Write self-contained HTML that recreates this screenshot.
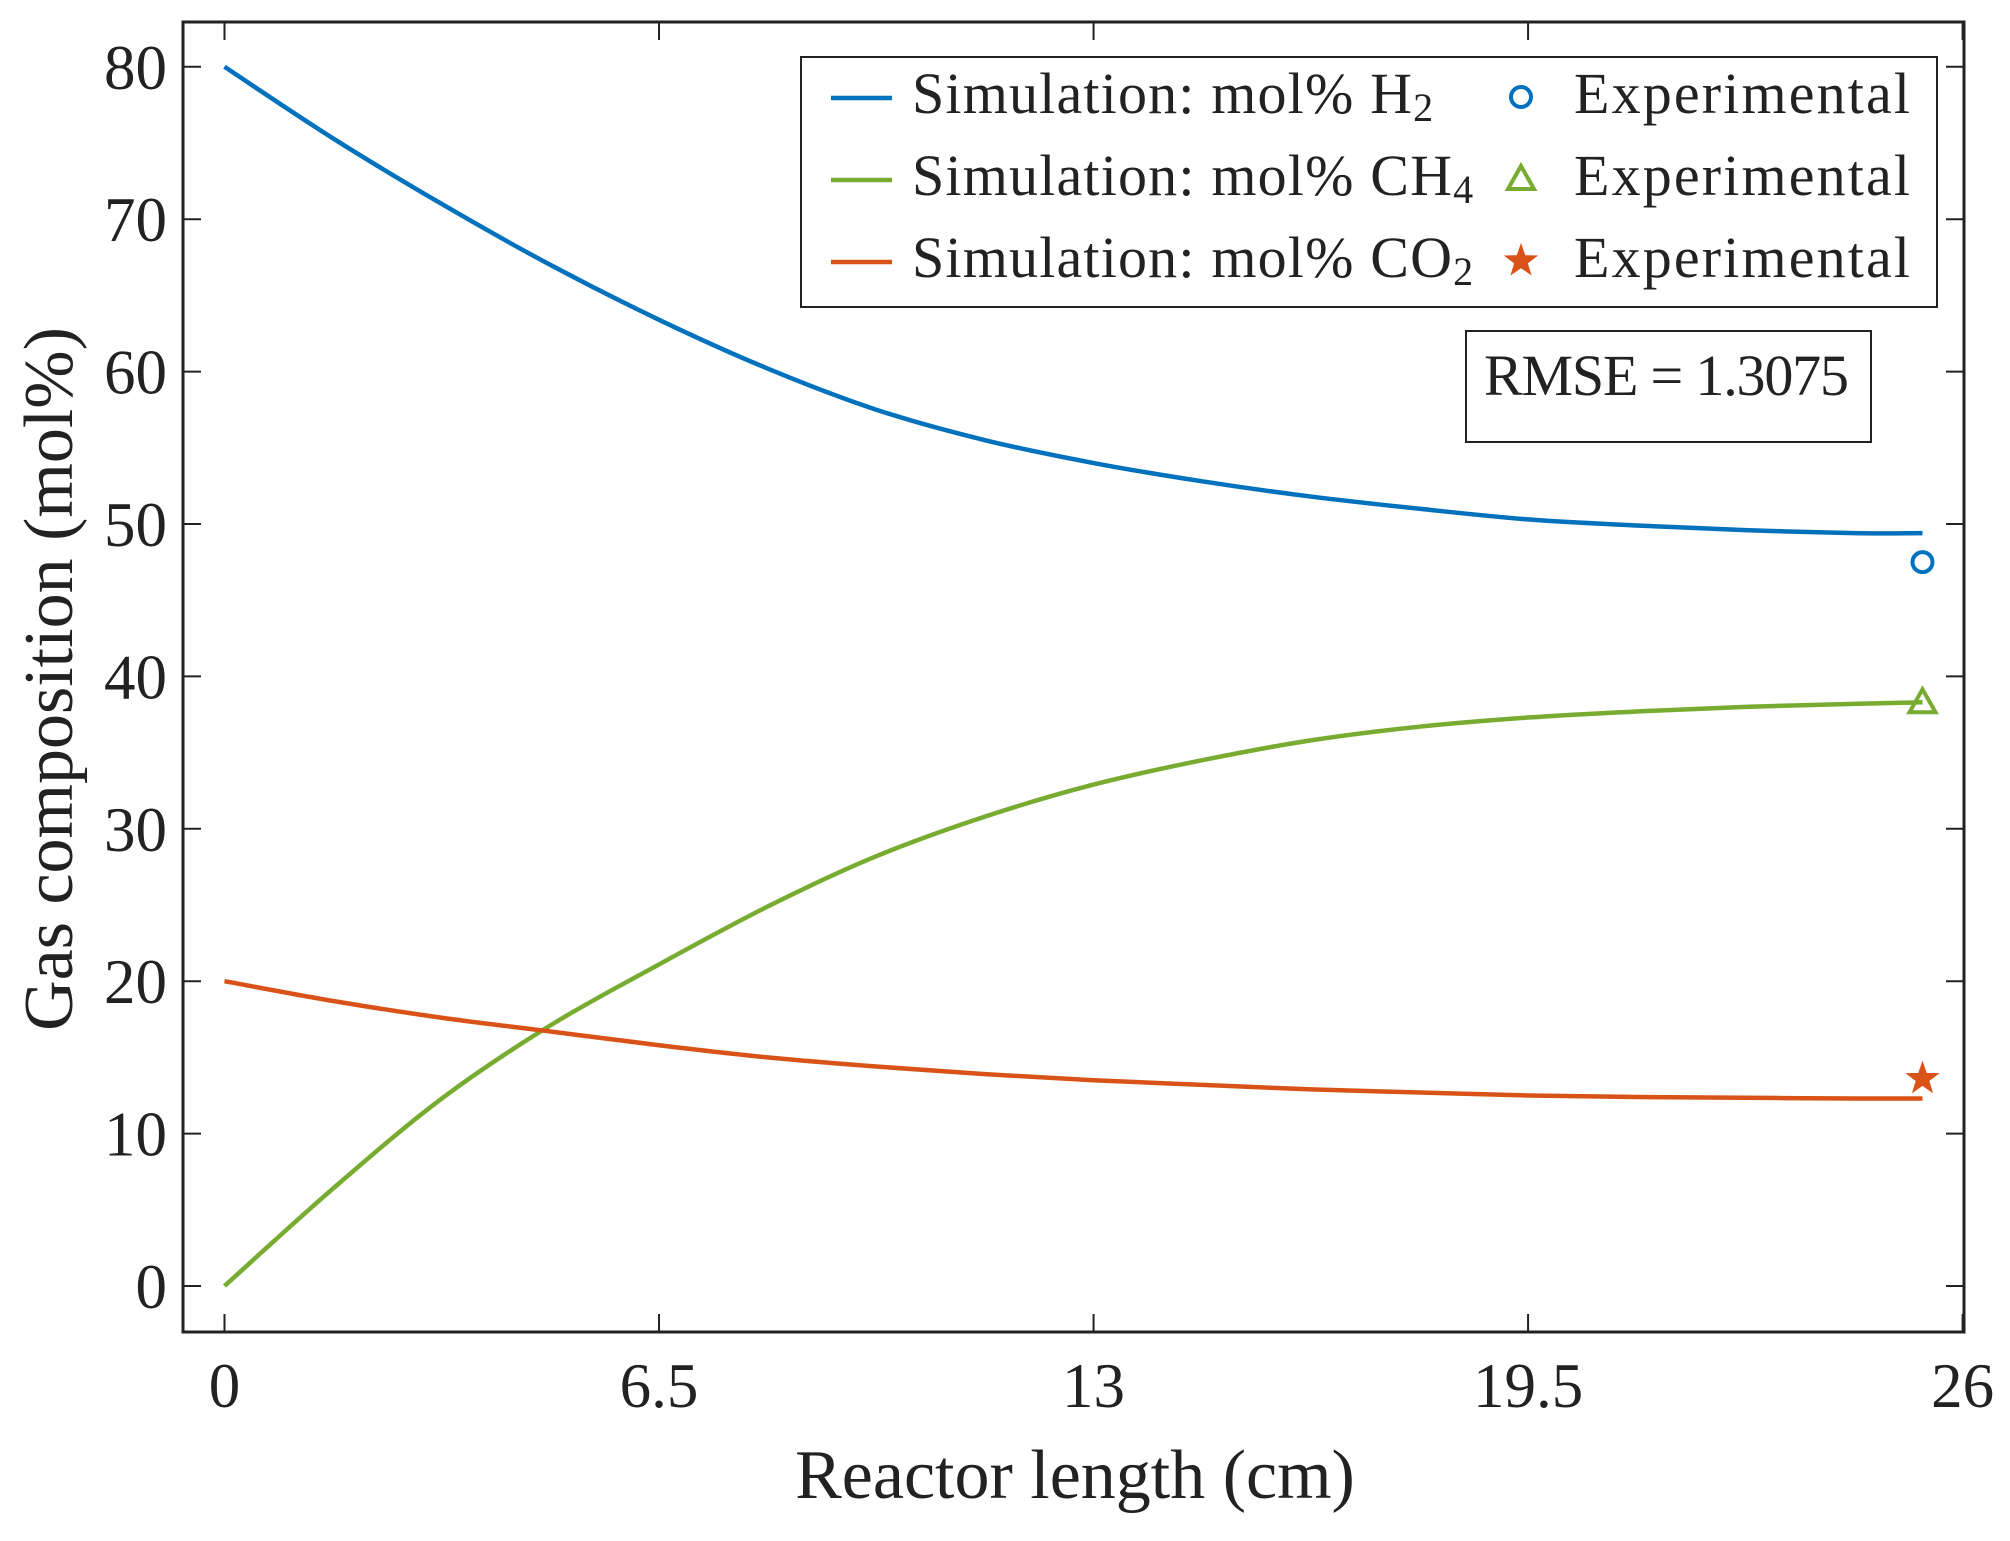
<!DOCTYPE html>
<html><head><meta charset="utf-8"><style>
html,body{margin:0;padding:0;background:#fff;}
svg text{font-family:"Liberation Serif",serif;fill:#222;}
</style></head><body>
<svg id="chart" width="2010" height="1536" viewBox="0 0 2010 1536" xmlns="http://www.w3.org/2000/svg">
<rect x="0" y="0" width="2010" height="1536" fill="#fff"/>
<g id="plot"></g>
</svg>
<script>
const xVals = [0, 1.625, 3.25, 4.875, 6.5, 8.125, 9.75, 11.375, 13, 14.625, 16.25, 17.875, 19.5, 21.125, 22.75, 24.375, 25.4];
const h2Vals = [80, 75.3, 71.0, 67.0, 63.4, 60.2, 57.5, 55.5, 54.0, 52.8, 51.8, 51.0, 50.3, 49.9, 49.6, 49.4, 49.4];
const ch4Vals = [0, 6.4, 12.3, 17.1, 21.1, 24.9, 28.2, 30.8, 32.9, 34.5, 35.8, 36.7, 37.3, 37.7, 38.0, 38.2, 38.3];
const co2Vals = [20, 18.7, 17.6, 16.7, 15.8, 15.0, 14.4, 13.9, 13.5, 13.2, 12.9, 12.7, 12.5, 12.4, 12.35, 12.3, 12.3];
const expX = [25.4];
const expH2 = [47.5];
const expCH4 = [38.3];
const expCO2 = [13.6];
const xTicks = [0, 6.5, 13, 19.5, 26];
const xTickLabels = ["0", "6.5", "13", "19.5", "26"];
const yTicks = [0, 10, 20, 30, 40, 50, 60, 70, 80];
const yTickLabels = ["0", "10", "20", "30", "40", "50", "60", "70", "80"];

const NS = "http://www.w3.org/2000/svg";
const L = 183, R = 1964, T = 22, B = 1332;
const sx = v => 224.5 + v * 66.85;
const sy = v => 1286 - v * 15.24;
const g = document.getElementById('plot');
function mk(tag, attrs, parent) {
  const e = document.createElementNS(NS, tag);
  for (const k in attrs) e.setAttribute(k, attrs[k]);
  (parent || g).appendChild(e);
  return e;
}
const box = mk('rect', {x: L, y: T, width: R - L, height: B - T, fill: 'none', stroke: '#222', 'stroke-width': 3});


xTicks.forEach((t, i) => {
  const x = sx(t);
  const a = mk('line', {x1: x, x2: x, y1: B, y2: B - 18, stroke: '#222', 'stroke-width': 2});
  
  
  const b = mk('line', {x1: x, x2: x, y1: T, y2: T + 18, stroke: '#222', 'stroke-width': 2});
  
  
  const tx = mk('text', {x: x, y: 1407, 'font-size': 63, 'text-anchor': 'middle'});
  tx.textContent = xTickLabels[i];
  
  
});
yTicks.forEach((t, i) => {
  const y = sy(t);
  const a = mk('line', {x1: L, x2: L + 18, y1: y, y2: y, stroke: '#222', 'stroke-width': 2});
  
  
  const b = mk('line', {x1: R, x2: R - 18, y1: y, y2: y, stroke: '#222', 'stroke-width': 2});
  
  
  const tx = mk('text', {x: 167, y: y + 22, 'font-size': 63, 'text-anchor': 'end'});
  tx.textContent = yTickLabels[i];
  
  
});
const xt = mk('text', {x: 1075, y: 1498, 'font-size': 70, 'text-anchor': 'middle'});
xt.textContent = 'Reactor length (cm)';


const yt = mk('text', {x: 0, y: 0, 'font-size': 70, 'text-anchor': 'middle', transform: 'translate(72,679) rotate(-90)'});
yt.textContent = 'Gas composition (mol%)';


function pathFor(ys) {
  const p = xVals.map((x, i) => [sx(x), sy(ys[i])]);
  let d = 'M' + p[0][0] + ',' + p[0][1];
  for (let i = 0; i < p.length - 1; i++) {
    const p0 = p[Math.max(0, i - 1)], p1 = p[i], p2 = p[i + 1], p3 = p[Math.min(p.length - 1, i + 2)];
    const c1 = [p1[0] + (p2[0] - p0[0]) / 6, p1[1] + (p2[1] - p0[1]) / 6];
    const c2 = [p2[0] - (p3[0] - p1[0]) / 6, p2[1] - (p3[1] - p1[1]) / 6];
    d += ' C' + c1 + ' ' + c2 + ' ' + p2;
  }
  return d;
}
const BLUE = '#0072BD', GREEN = '#77AC30', ORANGE = '#D95319';
const l1 = mk('path', {d: pathFor(h2Vals), fill: 'none', stroke: BLUE, 'stroke-width': 4.5});


const l2 = mk('path', {d: pathFor(ch4Vals), fill: 'none', stroke: GREEN, 'stroke-width': 4.5});


const l3 = mk('path', {d: pathFor(co2Vals), fill: 'none', stroke: ORANGE, 'stroke-width': 4.5});


function circle(cx, cy, parent) { return mk('circle', {cx, cy, r: 10, fill: 'none', stroke: BLUE, 'stroke-width': 4}, parent); }
function tri(cx, cy, parent) { return mk('polygon', {points: `${cx},${cy-13} ${cx+13},${cy+10} ${cx-13},${cy+10}`, fill: 'none', stroke: GREEN, 'stroke-width': 4}, parent); }
function star(cx, cy, parent) {
  let pts = [];
  for (let k = 0; k < 10; k++) {
    const r = k % 2 ? 6 : 15, a = -Math.PI / 2 + k * Math.PI / 5;
    pts.push((cx + r * Math.cos(a)).toFixed(1) + ',' + (cy + r * Math.sin(a)).toFixed(1));
  }
  return mk('polygon', {points: pts.join(' '), fill: ORANGE, stroke: ORANGE, 'stroke-width': 2}, parent);
}
expX.forEach((x, i) => {
  const m1 = circle(sx(x), sy(expH2[i]));
  
  
  const m2 = tri(sx(x), sy(expCH4[i]));
  
  
  const m3 = star(sx(x), sy(expCO2[i]));
  
  
});
const lg = mk('g', {});


mk('rect', {x: 801, y: 57, width: 1136, height: 250, fill: '#fff', stroke: '#222', 'stroke-width': 2}, lg);
const rows = [
  {c: BLUE, base: 'Simulation: mol% H', sub: '2', m: circle, n: 'h2'},
  {c: GREEN, base: 'Simulation: mol% CH', sub: '4', m: tri, n: 'ch4'},
  {c: ORANGE, base: 'Simulation: mol% CO', sub: '2', m: star, n: 'co2'}
];
const bl = [113, 195, 277];
rows.forEach((r, i) => {
  const y = bl[i];
  const ln = mk('line', {x1: 831, x2: 892, y1: y - 15, y2: y - 15, stroke: r.c, 'stroke-width': 4.5}, lg);
  
  
  const tx = mk('text', {x: 912, y: y, 'font-size': 58}, lg);
  
  
  const ts = document.createElementNS(NS, 'tspan');
  ts.setAttribute('textLength', i === 0 ? 500 : 540);
  ts.textContent = r.base;
  tx.appendChild(ts);
  const sb = document.createElementNS(NS, 'tspan');
  sb.setAttribute('font-size', 40);
  sb.setAttribute('dy', 8);
  sb.textContent = r.sub;
  tx.appendChild(sb);
  const mm = r.m(1521, y - 16, lg);
  
  
  const ex = mk('text', {x: 1574, y: y, 'font-size': 58, textLength: 336}, lg);
  ex.textContent = 'Experimental';
  
  
});
const rb = mk('g', {});


mk('rect', {x: 1466, y: 331, width: 405, height: 111, fill: '#fff', stroke: '#222', 'stroke-width': 2}, rb);
const rt = mk('text', {x: 1484, y: 395, 'font-size': 58, textLength: 365}, rb);
rt.textContent = 'RMSE = 1.3075';
</script>
</body></html>
